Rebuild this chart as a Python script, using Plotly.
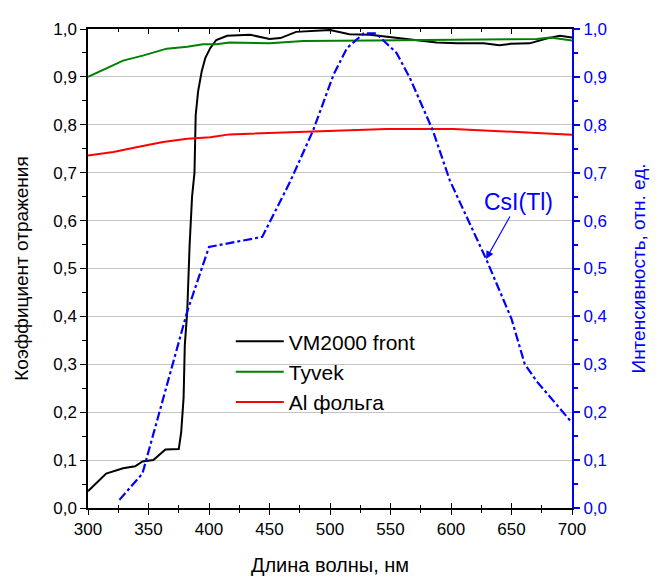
import plotly.graph_objects as go

# Wavelength, nm / reflectance
vm_x = [300, 315, 329, 339, 345, 354, 364, 375, 377, 379, 380, 382, 384, 386, 388, 389, 391, 394, 397, 401,
        406, 415, 434, 450, 459, 472, 500, 505, 516, 533, 550, 569, 588, 605, 627, 640, 649, 665, 679, 690, 700]
vm_y = [0.035, 0.072, 0.083, 0.087, 0.097, 0.100, 0.122, 0.123, 0.158, 0.230, 0.340, 0.410, 0.550, 0.650,
        0.700, 0.820, 0.870, 0.912, 0.940, 0.960, 0.977, 0.986, 0.988, 0.979, 0.981, 0.994, 0.998, 0.995,
        0.989, 0.988, 0.983, 0.979, 0.972, 0.970, 0.970, 0.966, 0.969, 0.970, 0.980, 0.986, 0.982]

ty_x = [300, 310, 318, 329, 346, 365, 382, 395, 406, 417, 450, 478, 533, 588, 616, 671, 682, 700]
ty_y = [0.900, 0.912, 0.920, 0.934, 0.945, 0.959, 0.963, 0.968, 0.968, 0.972, 0.970, 0.975, 0.976,
        0.977, 0.979, 0.979, 0.982, 0.976]

al_x = [300, 321, 340, 362, 382, 401, 417, 450, 492, 547, 602, 643, 671, 700]
al_y = [0.736, 0.743, 0.753, 0.764, 0.771, 0.774, 0.780, 0.783, 0.786, 0.791, 0.791, 0.787, 0.783, 0.779]

# CsI(Tl) emission, relative intensity
cs_x = [326, 345, 382, 400, 444, 467, 486, 503, 514, 528, 538, 547, 555, 566, 585, 599, 629, 650,
        661, 671, 700]
cs_y = [0.017, 0.072, 0.410, 0.545, 0.566, 0.681, 0.788, 0.905, 0.960, 0.991, 0.991, 0.970, 0.950, 0.898,
        0.788, 0.684, 0.520, 0.395, 0.300, 0.264, 0.178]

x_ticks = [300, 350, 400, 450, 500, 550, 600, 650, 700]
y_ticks = [0.0, 0.1, 0.2, 0.3, 0.4, 0.5, 0.6, 0.7, 0.8, 0.9, 1.0]
y_labels = [f"{v:.1f}".replace(".", ",") for v in y_ticks]

FONT = "Arial, Liberation Sans, sans-serif"

fig = go.Figure()
fig.add_trace(go.Scatter(x=vm_x, y=vm_y, mode="lines", name="VM2000 front",
                         line=dict(color="black", width=2)))
fig.add_trace(go.Scatter(x=ty_x, y=ty_y, mode="lines", name="Tyvek",
                         line=dict(color="#008000", width=2)))
fig.add_trace(go.Scatter(x=al_x, y=al_y, mode="lines", name="Al фольга",
                         line=dict(color="#ff0000", width=2)))
fig.add_trace(go.Scatter(x=cs_x, y=cs_y, mode="lines", name="CsI(Tl)", yaxis="y2", showlegend=False,
                         line=dict(color="#0000ff", width=2.2, dash="dashdot")))
# helper (invisible) traces so the decorative overlay axes are drawn
fig.add_trace(go.Scatter(x=x_ticks[:1], y=[None], xaxis="x2", showlegend=False, hoverinfo="skip"))
fig.add_trace(go.Scatter(x=x_ticks[:1], y=[None], xaxis="x3", showlegend=False, hoverinfo="skip"))

tickfont = dict(family=FONT, size=17, color="black")

fig.update_layout(
    width=662, height=577,
    margin=dict(l=80, r=98, t=16, b=77),
    paper_bgcolor="white", plot_bgcolor="white",
    font=dict(family=FONT, color="black"),
    xaxis=dict(range=[300, 700], tickvals=x_ticks, ticks="outside", ticklen=5, tickwidth=1.3,
               tickcolor="black", showline=True, linecolor="black", linewidth=1.5, showgrid=False,
               zeroline=False, tickfont=tickfont,
               minor=dict(ticks="outside", dtick=25, tick0=300, ticklen=3, tickcolor="black"),
               title=dict(text="Длина волны, нм", font=dict(family=FONT, size=20), standoff=20)),
    xaxis2=dict(range=[300, 700], overlaying="x", side="top", tickvals=x_ticks, ticks="inside",
                ticklen=5, tickwidth=1.3, tickcolor="black", showticklabels=False, showline=True,
                linecolor="black", linewidth=1.5, showgrid=False, zeroline=False,
                minor=dict(ticks="inside", dtick=25, tick0=300, ticklen=3, tickcolor="black")),
    xaxis3=dict(range=[300, 700], overlaying="x", side="bottom", tickvals=x_ticks, ticks="inside",
                ticklen=5, tickwidth=1.3, tickcolor="black", showticklabels=False, showline=False,
                showgrid=False, zeroline=False,
                minor=dict(ticks="inside", dtick=25, tick0=300, ticklen=3, tickcolor="black")),
    yaxis=dict(range=[0, 1], tickvals=y_ticks, ticktext=y_labels, ticks="outside", ticklen=6,
               tickwidth=1.3, tickcolor="black", showline=True, linecolor="black", linewidth=1.5,
               showgrid=True, gridcolor="#c4c4c4", gridwidth=1, zeroline=False, tickfont=tickfont,
               minor=dict(ticks="outside", dtick=0.05, ticklen=4, tickcolor="black", showgrid=False),
               title=dict(text="Коэффициент отражения", font=dict(family=FONT, size=19), standoff=20)),
    yaxis2=dict(range=[0, 1], overlaying="y", side="right", tickvals=y_ticks, ticktext=y_labels,
                ticks="outside", ticklen=6, tickwidth=1.5, tickcolor="#0000ff", showline=True,
                linecolor="#0000ff", linewidth=2, showgrid=False, zeroline=False,
                tickfont=dict(family=FONT, size=17, color="#0000ff"),
                minor=dict(ticks="outside", dtick=0.05, ticklen=4, tickcolor="#0000ff"),
                title=dict(text="Интенсивность, отн. ед.", font=dict(family=FONT, size=19, color="#0000ff"),
                           standoff=26)),
    legend=dict(x=0.295, y=0.39, xanchor="left", yanchor="top", bgcolor="rgba(0,0,0,0)",
                font=dict(family=FONT, size=21), itemwidth=48, tracegroupgap=0),
    showlegend=True,
)

fig.add_annotation(x=629, y=0.52, xref="x", yref="y2", text="CsI(Tl)", showarrow=True,
                   ax=32, ay=-57, arrowhead=2, arrowsize=1.3, arrowwidth=1.2, arrowcolor="#0000ff",
                   font=dict(family=FONT, size=23, color="#0000ff"))

fig.write_html("out.html")
